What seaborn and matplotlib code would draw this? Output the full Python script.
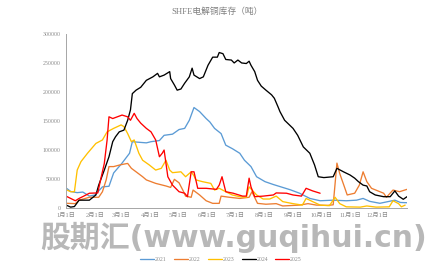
import numpy as np
import pandas as pd
import matplotlib
matplotlib.use("Agg")
import matplotlib.pyplot as plt
import seaborn as sns

# ---- data (day of year, tonnes) ----
days_2021 = [1, 5, 12, 18, 25, 31, 39, 46, 51, 60, 68, 71, 78, 86, 91, 100, 105, 114, 121, 127,
             132, 137, 143, 150, 154, 159, 166, 171, 178, 186, 191, 198, 204, 213, 222, 230, 240,
             250, 261, 272, 286, 300, 311, 318, 325, 336, 352, 358, 365]
vals_2021 = [33000, 28000, 26000, 27000, 20000, 22000, 36000, 37000, 60000, 77000, 94000, 114000,
             113000, 112000, 114000, 116000, 125000, 127000, 135000, 137000, 151000, 173000, 166000,
             154000, 148000, 137000, 128000, 108000, 102000, 94000, 82000, 71000, 53500, 45000,
             40000, 36000, 31000, 25000, 16000, 12000, 13000, 12000, 13000, 16000, 11000, 7600,
             13000, 9000, 8600]

days_2022 = [1, 10, 14, 25, 35, 39, 43, 46, 51, 58, 66, 70, 75, 82, 86, 96, 107, 112, 116, 121,
             125, 128, 134, 136, 143, 150, 157, 164, 166, 175, 186, 196, 199, 205, 214, 225, 232,
             250, 259, 268, 280, 286, 290, 293, 298, 301, 309, 314, 318, 322, 327, 336, 340, 343,
             350, 357, 365]
vals_2022 = [7600, 7000, 13000, 18000, 18000, 27600, 48000, 71000, 71000, 74000, 76500, 68000,
             62000, 53500, 48000, 42000, 37500, 35000, 49000, 43000, 30500, 20000, 18000, 30500,
             22000, 12000, 7500, 7500, 20000, 18000, 16000, 18000, 27600, 7500, 6000, 7000, 3000,
             4500, 7000, 4500, 4000, 5000, 77000, 59000, 36000, 22000, 25000, 39000, 62000, 45000,
             33500, 27600, 25000, 18000, 30500, 27600, 31700]

days_2023 = [1, 5, 9, 12, 16, 23, 32, 39, 44, 51, 59, 62, 66, 70, 73, 78, 82, 89, 96, 102, 107,
             111, 114, 123, 128, 134, 137, 139, 146, 155, 159, 164, 171, 178, 186, 193, 196, 204,
             211, 218, 225, 232, 243, 253, 257, 264, 272, 282, 288, 293, 300, 315, 322, 332, 346,
             350, 356, 359, 363]
vals_2023 = [30500, 27600, 27600, 65000, 79500, 94000, 111000, 117000, 131000, 137000, 143000,
             140000, 128000, 114000, 117000, 94000, 82000, 74000, 65000, 68000, 82000, 65000, 60500,
             62000, 53500, 62000, 55000, 48000, 45000, 42000, 30500, 33500, 27600, 22000, 19000,
             18000, 36000, 22000, 15000, 15000, 20000, 10500, 7000, 4500, 16000, 10500, 4500, 3500,
             18000, 7000, 1500, 1000, 3000, 1000, 1500, 12000, 7000, 1500, 4500]

days_2024 = [0, 5, 9, 14, 25, 32, 35, 41, 46, 50, 53, 57, 62, 66, 69, 71, 75, 80, 86, 93, 98,
             100, 105, 111, 112, 116, 119, 123, 127, 132, 135, 137, 143, 147, 152, 157, 162, 164,
             168, 171, 177, 180, 184, 188, 193, 196, 198, 202, 205, 209, 214, 220, 223, 227, 229,
             234, 243, 248, 254, 261, 266, 270, 276, 286, 290, 297, 304, 309, 313, 318, 322, 325,
             331, 340, 347, 352, 356, 361, 365]
vals_2024 = [4600, 1000, 2000, 13000, 13000, 22000, 39000, 65000, 88000, 114000, 122500, 131000,
             134000, 151000, 169000, 197000, 203000, 208000, 220000, 226000, 232000, 226000,
             229000, 235000, 223000, 212000, 203000, 205000, 215000, 226000, 241000, 229000,
             223000, 226000, 246000, 260000, 260000, 268000, 266000, 256000, 255000, 250000,
             255000, 250000, 249000, 253000, 246000, 235000, 220000, 210000, 203000, 195000,
             189000, 174000, 166000, 151000, 137000, 125000, 105000, 94000, 74000, 53500, 52000,
             53500, 68000, 62000, 56500, 51000, 45000, 39000, 37500, 27600, 22000, 19000, 19000,
             29000, 20000, 14500, 19000]

days_2025 = [0, 5, 10, 14, 19, 25, 34, 37, 41, 44, 46, 50, 55, 60, 66, 69, 73, 76, 80, 86, 91,
             96, 100, 103, 105, 109, 114, 121, 127, 130, 134, 137, 141, 150, 161, 164, 167, 171,
             179, 189, 193, 196, 198, 202, 211, 222, 225, 236, 243, 252, 257, 264, 272]
vals_2025 = [20000, 16000, 12000, 16000, 20000, 25000, 25500, 48000, 76500, 117000, 157000,
             154000, 157000, 160000, 157000, 151000, 163000, 154000, 146000, 137000, 131000,
             117000, 88000, 94000, 99600, 53500, 39000, 27600, 25000, 19000, 62000, 62000, 33500,
             33500, 31700, 39000, 53500, 27600, 25000, 20000, 20000, 51000, 36000, 19000, 20000,
             22000, 25500, 25000, 22000, 20000, 33500, 29000, 25000]

years = ["2021", "2022", "2023", "2024", "2025"]
colors = ["#5B9BD5", "#ED7D31", "#FFC000", "#000000", "#FF0000"]
month_days = [0, 31, 59, 90, 120, 151, 181, 212, 243, 273, 304, 334]
month_labels = ["1月1日", "2月1日", "3月1日", "4月1日", "5月1日", "6月1日",
                "7月1日", "8月1日", "9月1日", "10月1日", "11月1日", "12月1日"]
yticks = [0, 50000, 100000, 150000, 200000, 250000, 300000]

frames = []
for y, d, v in zip(years, [days_2021, days_2022, days_2023, days_2024, days_2025],
                   [vals_2021, vals_2022, vals_2023, vals_2024, vals_2025]):
    frames.append(pd.DataFrame({"day": d, "value": v, "year": y}))
df = pd.concat(frames, ignore_index=True)

sns.set_theme(style="white")
plt.rcParams["font.family"] = ["Liberation Serif", "Noto Sans CJK SC", "DejaVu Sans"]

fig = plt.figure(figsize=(4.44, 2.70), dpi=100)
ax = fig.add_axes([66 / 444, 62.3 / 270, 341 / 444, 173.7 / 270])

sns.lineplot(data=df, x="day", y="value", hue="year", palette=dict(zip(years, colors)),
             linewidth=0.95, ax=ax, legend=False, sort=False, estimator=None)

ax.set_xlim(0, 365)
ax.set_ylim(0, 300000)
ax.set_xticks(month_days)
ax.set_xticklabels(month_labels)
ax.set_yticks(yticks)
ax.set_yticklabels([str(t) for t in yticks])
ax.set_xlabel("")
ax.set_ylabel("")
tick_col = "#8c8c8c"
ax.tick_params(axis="both", labelsize=4.2, colors=tick_col, length=2, width=0.6, pad=2)
ax.tick_params(axis="x", labelsize=4.6)
for s in ["top", "right"]:
    ax.spines[s].set_visible(False)
for s in ["left", "bottom"]:
    ax.spines[s].set_color("#a6a6a6")
    ax.spines[s].set_linewidth(0.7)

fig.text(0.49, 1 - 12 / 270, "SHFE电解铜库存（吨）", ha="center", va="center",
         fontsize=6.3, color="#7f7f7f")

# watermark
fig.text(234 / 444, 1 - 237 / 270, "股期汇(www.guqihui.cn)", ha="center", va="center",
         fontsize=21.5, fontweight="bold", color="#b8b8b8",
         family=["DejaVu Sans", "Noto Sans CJK SC"])

handles = [plt.Line2D([0], [0], color=c, lw=0.95) for c in colors]
leg = fig.legend(handles, years, loc="center", bbox_to_anchor=(221 / 444, 1 - 259.3 / 270),
                 ncol=5, frameon=False, fontsize=4.2, handlelength=2.4, handletextpad=0.1,
                 columnspacing=1.3)
for t in leg.get_texts():
    t.set_color(tick_col)

fig.savefig("out.png", dpi=100)
